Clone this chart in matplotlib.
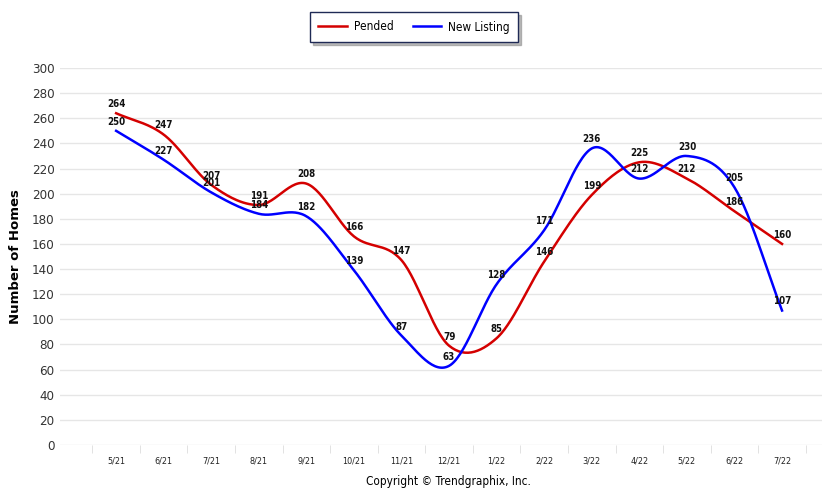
import matplotlib
matplotlib.use("Agg")
import matplotlib.pyplot as plt
import numpy as np

months = ["5/21", "6/21", "7/21", "8/21", "9/21", "10/21", "11/21", "12/21",
          "1/22", "2/22", "3/22", "4/22", "5/22", "6/22", "7/22"]
pended = [264, 247, 207, 191, 208, 166, 147, 79, 85, 146, 199, 225, 212, 186, 160]
new_listing = [250, 227, 201, 184, 182, 139, 87, 63, 128, 171, 236, 212, 230, 205, 107]


def smooth(xs, ys, n=30):
    """Catmull-Rom curve through the points, for the smoothed line look."""
    xs = np.asarray(xs, float)
    ys = np.asarray(ys, float)
    px = np.concatenate([[2 * xs[0] - xs[1]], xs, [2 * xs[-1] - xs[-2]]])
    py = np.concatenate([[2 * ys[0] - ys[1]], ys, [2 * ys[-1] - ys[-2]]])
    out_x, out_y = [], []
    t = np.linspace(0, 1, n, endpoint=False)
    for i in range(1, len(px) - 2):
        for p, o in ((px, out_x), (py, out_y)):
            p0, p1, p2, p3 = p[i - 1], p[i], p[i + 1], p[i + 2]
            o.extend(0.5 * (2 * p1 + (-p0 + p2) * t + (2 * p0 - 5 * p1 + 4 * p2 - p3) * t ** 2
                            + (-p0 + 3 * p1 - 3 * p2 + p3) * t ** 3))
    out_x.append(xs[-1])
    out_y.append(ys[-1])
    return np.array(out_x), np.array(out_y)


red = "#d40000"
blue = "#0000ff"
narrow = dict(family="DejaVu Sans", stretch="condensed")

fig = plt.figure(figsize=(8.25, 4.92), dpi=100)
ax = fig.add_axes([60 / 825, 1 - 445 / 492, 762 / 825, 377 / 492])

x = np.arange(len(months))
sx, sy = smooth(x, pended)
ax.plot(sx, sy, color=red, lw=1.8, label="Pended")
sx, sy = smooth(x, new_listing)
ax.plot(sx, sy, color=blue, lw=1.8, label="New Listing")

# value labels sit just above each point
for series in (pended, new_listing):
    for xi, v in zip(x, series):
        ax.annotate(str(v), (xi, v), xytext=(0, 3), textcoords="offset points",
                    fontsize=7, fontweight="bold", color="#111111", ha="center", va="bottom", **narrow)

ax.set_xlim(-1.18, 14.84)
ax.set_ylim(0, 300)
ax.set_yticks(range(0, 301, 20))
ax.set_xticks(x)
ax.set_xticklabels(months)
ax.set_xticks(np.arange(-0.5, 15, 1), minor=True)
ax.tick_params(axis="x", which="major", length=0, labelsize=6.5, colors="#222222", pad=8)
ax.tick_params(axis="x", which="minor", length=6, color="#dddddd")
ax.tick_params(axis="y", length=0, labelsize=9.5, colors="#333333", pad=4)
for lbl in ax.get_yticklabels() + ax.get_xticklabels():
    lbl.set_fontstretch("condensed")

ax.grid(axis="y", color="#e6e6e6", lw=1)
ax.set_axisbelow(True)
for s in ax.spines.values():
    s.set_visible(False)

ax.set_ylabel("Number of Homes", fontsize=9.5, fontweight="bold", labelpad=7)

leg = fig.legend(loc="center", bbox_to_anchor=(414 / 825, 1 - 27 / 492), ncol=2,
                 frameon=True, fancybox=False, shadow={"color": "0.55", "alpha": 0.6},
                 handlelength=2.4, handletextpad=0.6, columnspacing=1.6, borderpad=0.7,
                 prop=dict(size=8.5, stretch="condensed"))
leg.get_frame().set_edgecolor("#1f2a55")
leg.get_frame().set_linewidth(1.0)

fig.text(448 / 825, 1 - 482 / 492, "Copyright \u00a9 Trendgraphix, Inc.", ha="center",
         va="center", fontsize=8.5, **narrow)

fig.savefig("out.png", dpi=100)
